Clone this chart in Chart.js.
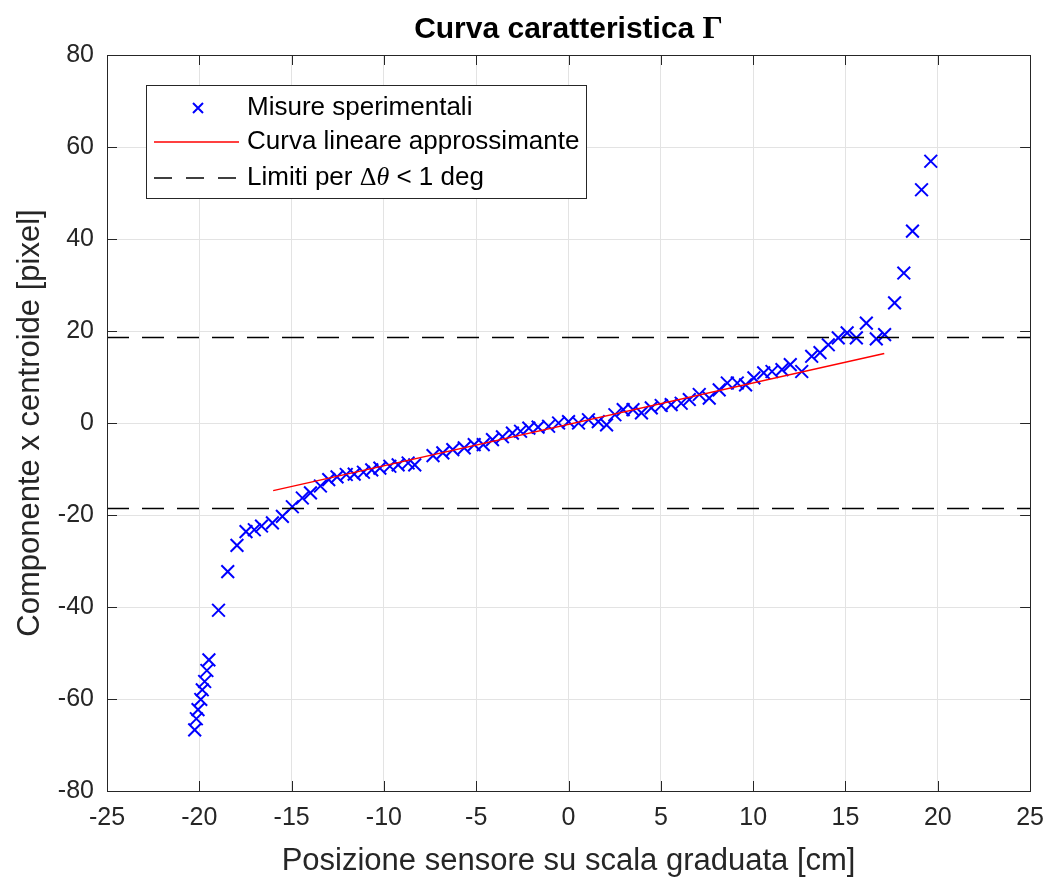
<!DOCTYPE html>
<html>
<head>
<meta charset="utf-8">
<script src="https://cdn.jsdelivr.net/npm/chart.js@4.4.1/dist/chart.umd.min.js"></script>
<style>
    html, body { margin: 0; padding: 0; background: #fff; }
    #wrap { width: 1056px; height: 880px; }
</style>
</head>
<body>
<div id="wrap"><canvas id="chart-curva"></canvas></div>
<script>
// posizione sensore [cm] e componente x del centroide [pixel]
const posizione = [
    -20.25, -20.16, -20.07, -19.92, -19.84, -19.71, -19.59, -19.48,
    -18.96, -18.46, -17.96, -17.47, -17.02, -16.63, -16.04, -15.5,
    -14.96, -14.42, -13.98, -13.44, -12.99, -12.54, -12.04, -11.61,
    -11.11, -10.66, -10.22, -9.68, -9.23, -8.69, -8.33,
    -7.34, -6.81, -6.27, -5.65, -5.11, -4.62, -4.12, -3.58, -3.04,
    -2.6, -2.15, -1.65, -1.08, -0.54, 0.0, 0.54, 1.08, 1.61, 2.06,
    2.51, 2.96, 3.49, 3.95, 4.48, 5.02, 5.56, 6.1, 6.54, 7.08,
    7.62, 8.16, 8.6, 9.14, 9.59, 10.04, 10.57, 11.02, 11.56, 12.01,
    12.63, 13.17, 13.62, 14.07, 14.61, 15.09, 15.59, 16.13, 16.67, 17.12,
    17.66, 18.16, 18.63, 19.12, 19.62
];
const centroide = [
    -66.7, -64.3, -62.3, -60.1, -58.0, -56.2, -53.8, -51.5,
    -40.7, -32.3, -26.6, -23.6, -23.2, -22.4, -21.7, -20.3,
    -18.2, -16.3, -15.2, -13.7, -12.3, -11.7, -11.2, -11.1,
    -10.7, -10.2, -9.8, -9.4, -9.1, -8.7, -9.1,
    -7.1, -6.5, -5.8, -5.4, -4.7, -4.7, -3.6, -3.0, -2.2,
    -1.8, -1.1, -0.9, -0.7, 0.0, 0.3, 0.0, 0.7, 0.3, -0.4,
    1.8, 2.9, 2.9, 2.2, 3.3, 3.8, 4.0, 4.3, 5.1, 6.2,
    5.4, 7.2, 8.7, 8.7, 8.3, 9.8, 10.9, 11.2, 11.6, 12.7,
    11.2, 14.5, 15.3, 17.0, 18.5, 19.6, 18.5, 21.7, 18.3, 19.2,
    26.1, 32.6, 41.7, 50.7, 56.9
];
// retta di fit
const fitX = [-16.0, 17.1];
const fitY = [-14.7, 15.1];
// limiti per delta theta < 1 deg
const limiteX = [-25, 25];
const limiteSup = [18.6, 18.6];
const limiteInf = [-18.6, -18.6];

const xTicks = [-25, -20, -15, -10, -5, 0, 5, 10, 15, 20, 25];
const yTicks = [-80, -60, -40, -20, 0, 20, 40, 60, 80];

const toPoints = (xs, ys) => xs.map((x, i) => ({ x: x, y: ys[i] }));

const FONT = "'Liberation Sans', Arial, Helvetica, sans-serif";
const SERIF = "'Liberation Serif', 'Times New Roman', serif";
const AXIS = "#262626";

// cornice in stile MATLAB con tacche verso l'interno
const boxPlugin = {
    id: "box",
    afterDraw(chart) {
        const { ctx, chartArea: a, scales } = chart;
        ctx.save();
        ctx.strokeStyle = AXIS;
        ctx.lineWidth = 1;
        ctx.beginPath();
        xTicks.forEach((v) => {
            const px = Math.round(scales.x.getPixelForValue(v)) + 0.5;
            ctx.moveTo(px, a.bottom); ctx.lineTo(px, a.bottom - 10);
            ctx.moveTo(px, a.top); ctx.lineTo(px, a.top + 10);
        });
        yTicks.forEach((v) => {
            const py = Math.round(scales.y.getPixelForValue(v)) + 0.5;
            ctx.moveTo(a.left, py); ctx.lineTo(a.left + 10, py);
            ctx.moveTo(a.right, py); ctx.lineTo(a.right - 10, py);
        });
        ctx.stroke();
        ctx.strokeRect(Math.round(a.left) + 0.5, Math.round(a.top) + 0.5,
            Math.round(a.right - a.left), Math.round(a.bottom - a.top));
        ctx.restore();
    },
};

// titolo con la Gamma in serif
const titlePlugin = {
    id: "titolo",
    afterDraw(chart) {
        const { ctx, chartArea: a } = chart;
        const p1 = "Curva caratteristica ";
        const p2 = "\u0393";
        ctx.save();
        ctx.fillStyle = "#000";
        ctx.textBaseline = "middle";
        ctx.font = "bold 30px " + FONT;
        const w1 = ctx.measureText(p1).width;
        ctx.font = "bold 32px " + SERIF;
        const w2 = ctx.measureText(p2).width;
        const x0 = (a.left + a.right) / 2 - (w1 + w2) / 2;
        ctx.textAlign = "left";
        ctx.font = "bold 30px " + FONT;
        ctx.fillText(p1, x0, 30);
        ctx.font = "bold 32px " + SERIF;
        ctx.fillText(p2, x0 + w1, 30);
        ctx.restore();
    },
};

// legenda dentro l'area del grafico
const legendPlugin = {
    id: "legendaInterna",
    afterDraw(chart) {
        const { ctx, chartArea: a } = chart;
        const bx = a.left + 39, by = a.top + 30, bw = 440, bh = 113;
        ctx.save();
        ctx.fillStyle = "#fff";
        ctx.fillRect(bx, by, bw, bh);
        ctx.strokeStyle = AXIS;
        ctx.lineWidth = 1;
        ctx.strokeRect(bx + 0.5, by + 0.5, bw, bh);

        const tx = bx + 101;
        const rows = [by + 23, by + 57, by + 93];
        // marker
        ctx.strokeStyle = "#0000ff";
        ctx.lineWidth = 2;
        ctx.beginPath();
        const mx = bx + 52, my = rows[0], r = 5;
        ctx.moveTo(mx - r, my - r); ctx.lineTo(mx + r, my + r);
        ctx.moveTo(mx - r, my + r); ctx.lineTo(mx + r, my - r);
        ctx.stroke();
        // linea rossa
        ctx.strokeStyle = "#ff0000";
        ctx.lineWidth = 1.5;
        ctx.beginPath();
        ctx.moveTo(bx + 8, rows[1]); ctx.lineTo(bx + 93, rows[1]);
        ctx.stroke();
        // tratteggio
        ctx.strokeStyle = "#000";
        ctx.setLineDash([18, 14]);
        ctx.beginPath();
        ctx.moveTo(bx + 8, rows[2]); ctx.lineTo(bx + 93, rows[2]);
        ctx.stroke();
        ctx.setLineDash([]);

        ctx.fillStyle = "#000";
        ctx.textBaseline = "middle";
        ctx.textAlign = "left";
        ctx.font = "26px " + FONT;
        ctx.fillText("Misure sperimentali", tx, rows[0]);
        ctx.fillText("Curva lineare approssimante", tx, rows[1]);
        let x = tx;
        const s1 = "Limiti per ";
        ctx.fillText(s1, x, rows[2]);
        x += ctx.measureText(s1).width;
        ctx.font = "26px " + SERIF;
        ctx.fillText("\u0394", x, rows[2]);
        x += ctx.measureText("\u0394").width;
        ctx.font = "italic 26px " + SERIF;
        ctx.fillText("\u03b8", x, rows[2]);
        x += ctx.measureText("\u03b8").width;
        ctx.font = "26px " + FONT;
        ctx.fillText(" < 1 deg", x, rows[2]);
        ctx.restore();
    },
};

const chartCurva = new Chart(document.getElementById("chart-curva"), {
    type: "scatter",
    data: {
        datasets: [
            {
                label: "Curva lineare approssimante",
                data: toPoints(fitX, fitY),
                showLine: true,
                borderColor: "#ff0000",
                borderWidth: 1.5,
                pointRadius: 0,
                order: 0,
            },
            {
                label: "Limiti per \u0394\u03b8 < 1 deg",
                data: toPoints(limiteX, limiteSup),
                showLine: true,
                borderColor: "#000000",
                borderWidth: 1.5,
                borderDash: [22, 13],
                pointRadius: 0,
                order: 1,
            },
            {
                label: "limite inferiore",
                data: toPoints(limiteX, limiteInf),
                showLine: true,
                borderColor: "#000000",
                borderWidth: 1.5,
                borderDash: [22, 13],
                pointRadius: 0,
                order: 1,
            },
            {
                label: "Misure sperimentali",
                data: toPoints(posizione, centroide),
                showLine: false,
                pointStyle: "crossRot",
                pointRadius: 9,
                pointBorderWidth: 2,
                borderColor: "#0000ff",
                backgroundColor: "#0000ff",
                order: 2,
            },
        ],
    },
    options: {
        responsive: true,
        maintainAspectRatio: false,
        animation: false,
        layout: { padding: { top: 55, right: 20, bottom: 0, left: 0 } },
        plugins: {
            legend: { display: false },
            title: { display: false },
            tooltip: { enabled: false },
        },
        scales: {
            x: {
                type: "linear",
                min: -25,
                max: 25,
                afterFit: (s) => { s.height = 89; },
                afterBuildTicks: (s) => { s.ticks = xTicks.map((v) => ({ value: v })); },
                border: { display: false },
                grid: { color: "#e3e3e3", drawTicks: false },
                ticks: { color: AXIS, padding: 12, font: { family: FONT, size: 25 } },
                title: {
                    display: true,
                    text: "Posizione sensore su scala graduata [cm]",
                    color: AXIS,
                    font: { family: FONT, size: 31 },
                    padding: { top: 0, bottom: 0 },
                },
            },
            y: {
                type: "linear",
                min: -80,
                max: 80,
                afterFit: (s) => { s.width = 107; },
                afterBuildTicks: (s) => { s.ticks = yTicks.map((v) => ({ value: v })); },
                border: { display: false },
                grid: { color: "#e3e3e3", drawTicks: false },
                ticks: { color: AXIS, padding: 13, font: { family: FONT, size: 25 } },
                title: {
                    display: true,
                    text: "Componente x centroide [pixel]",
                    color: AXIS,
                    font: { family: FONT, size: 31 },
                    padding: { top: 12, bottom: 0 },
                },
            },
        },
    },
    plugins: [boxPlugin, titlePlugin, legendPlugin],
});
</script>
</body>
</html>
